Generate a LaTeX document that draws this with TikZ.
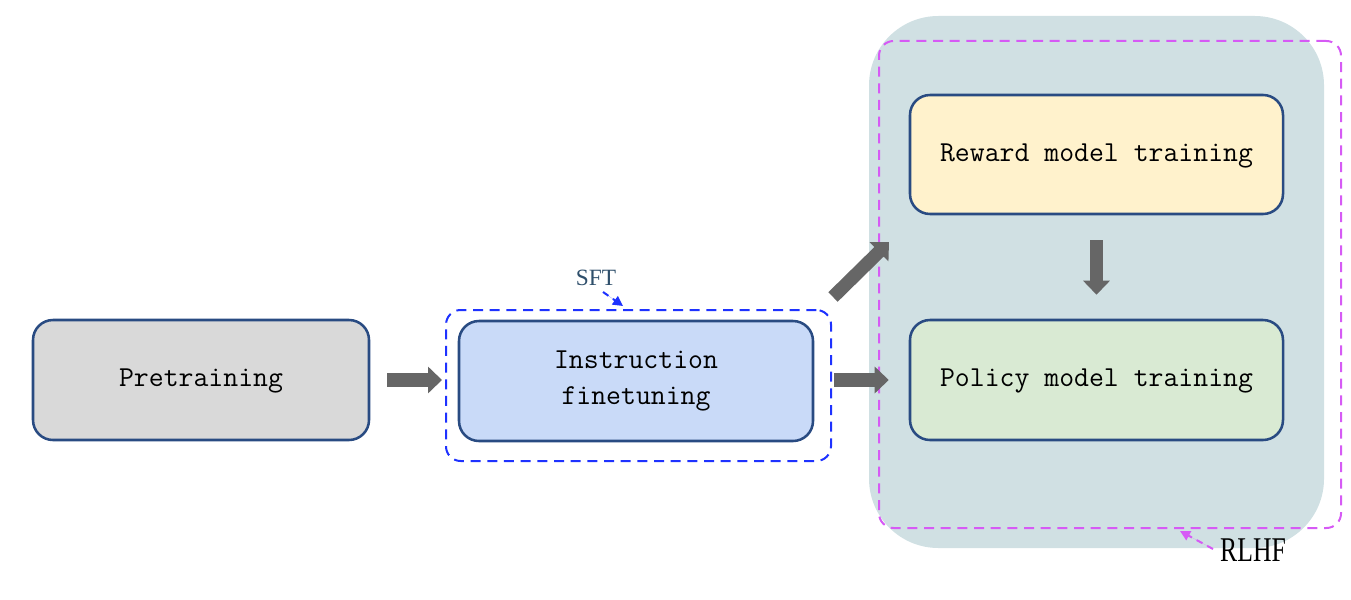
\documentclass[tikz,border=0pt]{standalone}
\usepackage{fontspec}
\usepackage{graphicx}
\usetikzlibrary{arrows.meta}
\newfontfamily\serifLS{Liberation Serif}
\definecolor{bigbg}{RGB}{208,224,227}
\definecolor{magline}{RGB}{214,90,245}
\definecolor{blueline}{RGB}{30,50,255}
\definecolor{boxborder}{RGB}{41,75,130}
\definecolor{arrgray}{RGB}{102,102,102}
\definecolor{prefill}{RGB}{217,217,217}
\definecolor{insfill}{RGB}{201,218,248}
\definecolor{rewfill}{RGB}{255,242,204}
\definecolor{polfill}{RGB}{217,234,211}
\definecolor{sftcol}{RGB}{47,79,107}
\begin{document}
\begin{tikzpicture}[x=0.75pt,y=-0.75pt,
  stage/.style={draw=boxborder, line width=1.9pt, rounded corners=15pt, inner sep=0pt,
    align=center, font=\fontsize{21.7pt}{27pt}\selectfont\ttfamily},
  oneline/.style={text height=1.0em, text depth=0em},
  blockarrow/.style={draw=arrgray, line width=10pt, -{Triangle[length=10.5pt,width=19.5pt]}},
  smallarrow/.style={line width=1.5pt, dashed, dash pattern=on 5pt off 4pt, -{Triangle[length=7.5pt,width=7.5pt]}}
]
\useasboundingbox (0,0) rectangle (1351,599);
% RLHF background and dashed frame
\node[fill=bigbg, rounded corners=52pt, minimum width=341.25pt, minimum height=399pt, inner sep=0pt] (bg) at (1096.5,282) {};
\node[draw=magline, line width=1.5pt, dash pattern=on 7.5pt off 5pt, rounded corners=11pt,
  minimum width=346.5pt, minimum height=365.25pt, inner sep=0pt] (rlhfbox) at (1110,284.5) {};
% SFT dashed frame
\node[draw=blueline, line width=1.5pt, dash pattern=on 7.5pt off 5pt, rounded corners=11pt,
  minimum width=288.75pt, minimum height=113.25pt, inner sep=0pt] (sftbox) at (638.5,385.5) {};
% stages
\node[stage, oneline, fill=prefill, minimum width=252pt, minimum height=90pt] (pre) at (201,380) {Pretraining};
\node[stage, fill=insfill, minimum width=265.5pt, minimum height=90pt] (ins) at (636,381) {Instruction\\finetuning};
\node[stage, oneline, fill=rewfill, minimum width=279.75pt, minimum height=89.25pt] (rew) at (1096.5,154.5) {Reward model training};
\node[stage, oneline, fill=polfill, minimum width=279.75pt, minimum height=90pt] (pol) at (1096.5,380) {Policy model training};
% labels
\node[font=\serifLS\fontsize{17.5pt}{20pt}\selectfont, text=sftcol, inner sep=0pt] (sftlbl) at (596,278) {SFT};
\node[font=\serifLS\fontsize{26pt}{30pt}\selectfont, text=black, inner sep=0pt] (rlhflbl) at (1253,550) {\scalebox{0.74}[1]{RLHF}};
% block arrows
\draw[blockarrow, shorten <=12.75pt, shorten >=2.25pt] (pre.east) -- (pre.east -| sftbox.west);
\draw[blockarrow, shorten <=1.5pt, shorten >=15pt] (sftbox.east |- pol.west) -- (pol.west);
\coordinate (d1) at (833,297);
\coordinate (d2) at (889,242);
\draw[blockarrow] (d1) -- (d2);
\draw[blockarrow, shorten <=18.75pt, shorten >=18pt] (rew.south) -- (pol.north);
% small label arrows
\coordinate (s1) at (603,292);
\coordinate (s2) at (623,306);
\draw[smallarrow, draw=blueline, fill=blueline] (s1) -- (s2);
\coordinate (r1) at (1213,549);
\coordinate (r2) at (1180,531);
\draw[smallarrow, draw=magline, fill=magline] (r1) -- (r2);
\end{tikzpicture}
\end{document}
